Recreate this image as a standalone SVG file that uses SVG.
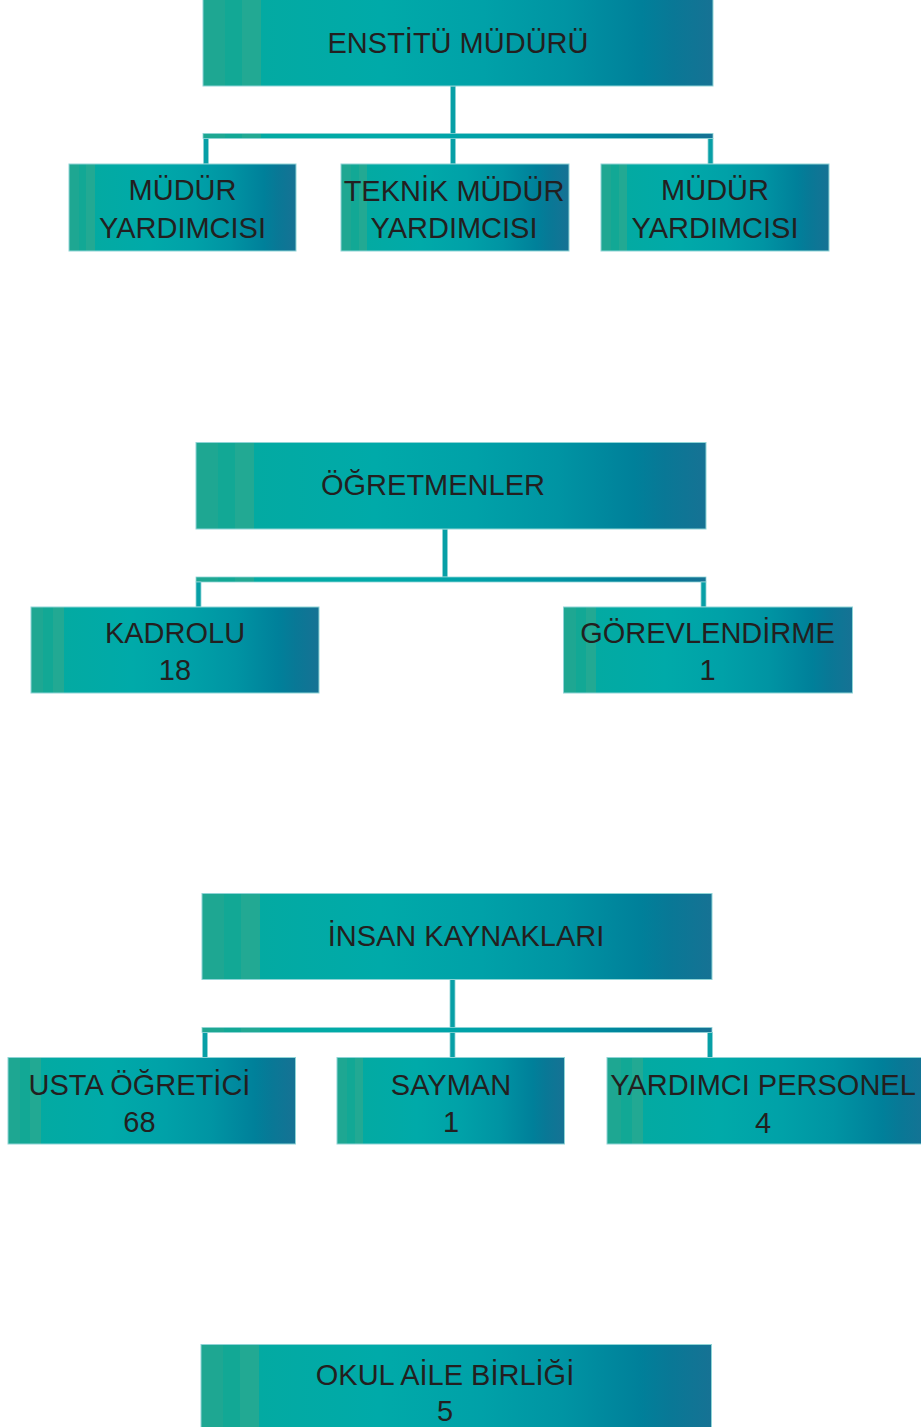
<svg xmlns="http://www.w3.org/2000/svg" width="921" height="1427" viewBox="0 0 921 1427">
<defs>
<linearGradient id="g" x1="0" y1="0" x2="1" y2="0">
<stop offset="0" stop-color="#1ea792"/>
<stop offset="0.043" stop-color="#1ea792"/>
<stop offset="0.043" stop-color="#12a895"/>
<stop offset="0.077" stop-color="#12a895"/>
<stop offset="0.077" stop-color="#22a993"/>
<stop offset="0.114" stop-color="#22a993"/>
<stop offset="0.114" stop-color="#03aaa2"/>
<stop offset="0.35" stop-color="#00aaa9"/>
<stop offset="0.55" stop-color="#00a1a8"/>
<stop offset="0.71" stop-color="#0094a3"/>
<stop offset="0.86" stop-color="#00809a"/>
<stop offset="0.92" stop-color="#097896"/>
<stop offset="1" stop-color="#167294"/>
</linearGradient>
<style>
.box{fill:url(#g);stroke:#8fd4d6;stroke-width:1}
.ln{fill:url(#g);stroke:#8fd4d6;stroke-width:0.8}
.vl{fill:#079fa6;stroke:#8fd4d6;stroke-width:0.8}
text{font-family:"Liberation Sans",Arial,sans-serif;font-size:29px;fill:#231f20;text-anchor:middle}
</style>
</defs>

<g id="connectors">
<rect class="vl" x="450.5" y="86" width="5" height="78"/>
<rect class="ln" x="203" y="133.5" width="510" height="5"/>
<rect class="vl" x="203.5" y="138.5" width="5" height="25.5"/>
<rect class="vl" x="708" y="138.5" width="5" height="25.5"/>

<rect class="vl" x="442.5" y="529" width="5" height="48"/>
<rect class="ln" x="196" y="577" width="510" height="5"/>
<rect class="vl" x="196" y="582" width="5" height="25"/>
<rect class="vl" x="701" y="582" width="5" height="25"/>

<rect class="vl" x="450" y="979.5" width="5" height="78"/>
<rect class="ln" x="202" y="1027.5" width="510" height="5"/>
<rect class="vl" x="202.5" y="1032.5" width="5" height="25"/>
<rect class="vl" x="707.5" y="1032.5" width="5" height="25"/>
</g>

<g id="enstitu-muduru">
<rect class="box" x="203" y="-1" width="510" height="87"/>
<text x="458" y="52.5">ENSTİTÜ MÜDÜRÜ</text>
</g>
<g id="mudur-yardimcisi-1">
<rect class="box" x="69" y="164" width="227" height="87"/>
<text x="182.5" y="200">MÜDÜR</text>
<text x="182.5" y="237.5">YARDIMCISI</text>
</g>
<g id="teknik-mudur-yardimcisi">
<rect class="box" x="341" y="164" width="228" height="87"/>
<text x="454" y="201">TEKNİK MÜDÜR</text>
<text x="454" y="238">YARDIMCISI</text>
</g>
<g id="mudur-yardimcisi-2">
<rect class="box" x="601" y="164" width="228" height="87"/>
<text x="715" y="200">MÜDÜR</text>
<text x="715" y="237.5">YARDIMCISI</text>
</g>

<g id="ogretmenler">
<rect class="box" x="196" y="442.5" width="510" height="86.5"/>
<text x="433" y="495">ÖĞRETMENLER</text>
</g>
<g id="kadrolu">
<rect class="box" x="31" y="607" width="288" height="86"/>
<text x="175" y="643">KADROLU</text>
<text x="175" y="680">18</text>
</g>
<g id="gorevlendirme">
<rect class="box" x="563.5" y="607" width="289" height="86"/>
<text x="707.5" y="643">GÖREVLENDİRME</text>
<text x="707.5" y="680">1</text>
</g>

<g id="insan-kaynaklari">
<rect class="box" x="202" y="893.5" width="510" height="86"/>
<text x="466" y="946">İNSAN KAYNAKLARI</text>
</g>
<g id="usta-ogretici">
<rect class="box" x="8" y="1057.5" width="287.5" height="86.5"/>
<text x="139.5" y="1094.5">USTA ÖĞRETİCİ</text>
<text x="139.5" y="1132">68</text>
</g>
<g id="sayman">
<rect class="box" x="337" y="1057.5" width="227.5" height="86.5"/>
<text x="451" y="1094.5">SAYMAN</text>
<text x="451" y="1132">1</text>
</g>
<g id="yardimci-personel">
<rect class="box" x="607" y="1057.5" width="320" height="86.5"/>
<text x="763" y="1095">YARDIMCI PERSONEL</text>
<text x="763" y="1132.5">4</text>
</g>

<g id="okul-aile-birligi">
<rect class="box" x="201" y="1344.5" width="510.5" height="90"/>
<text x="445" y="1385">OKUL AİLE BİRLİĞİ</text>
<text x="445" y="1421">5</text>
</g>
</svg>
